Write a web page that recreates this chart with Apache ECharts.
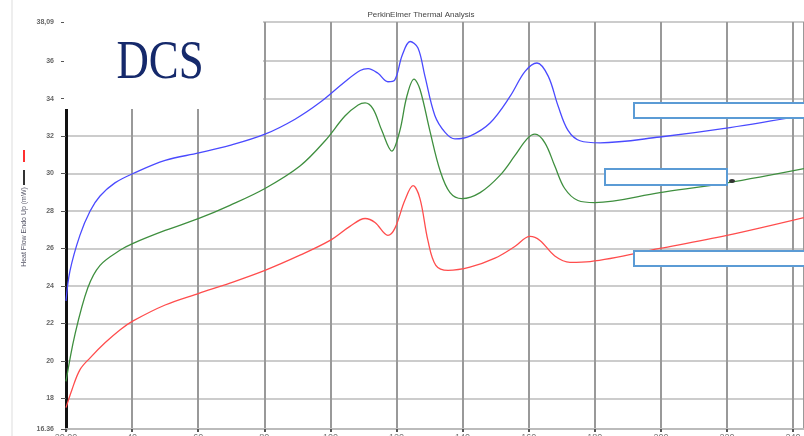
<!DOCTYPE html>
<html>
<head>
<meta charset="utf-8">
<script src="https://cdn.jsdelivr.net/npm/echarts@6/dist/echarts.min.js"></script>
<style>
  html, body { margin: 0; padding: 0; background: #fff; }
  #chart { width: 804px; height: 436px; }
</style>
</head>
<body>
<div id="chart"></div>
<script>
// temperature (x) and heat flow (y)
var blueT = [20, 21.2, 24.2, 27.3, 30.3, 34.8, 40.3, 50, 60.2, 69.6, 80.2, 89.3, 96.9, 104.4, 109, 111.4, 114.4, 117.4, 119.5, 121.7, 124.1, 126.5, 128.6, 131.6, 134.7, 137.7, 142.2, 148.3, 154.3, 158.9, 162.5, 165.9, 168.9, 171.9, 175.5, 181.6, 199.7, 220.9, 243.3];
var blueV = [23.2, 24.8, 26.7, 28.0, 28.8, 29.5, 30.0, 30.7, 31.1, 31.5, 32.1, 32.9, 33.8, 34.9, 35.5, 35.6, 35.35, 34.9, 35.0, 36.3, 37.05, 36.7, 35.2, 33.1, 32.2, 31.85, 32.0, 32.7, 34.1, 35.45, 35.9, 35.2, 33.6, 32.3, 31.75, 31.64, 31.95, 32.45, 33.1];

var greenT = [20, 22.7, 26.6, 30.3, 36.3, 40.3, 50, 60.2, 69.6, 80.2, 90.8, 98.4, 104.4, 108.4, 110.5, 112.9, 115.6, 118.6, 121, 123.1, 125.3, 127.1, 130.1, 133.2, 136.2, 139.8, 145.3, 151.3, 155.8, 159.5, 161.9, 164.9, 167.9, 170.9, 174.9, 180, 199.7, 220, 243.3];
var greenV = [18.9, 21.4, 23.9, 25.1, 25.9, 26.27, 26.96, 27.6, 28.3, 29.2, 30.4, 31.75, 33.07, 33.66, 33.77, 33.45, 32.28, 31.2, 32.28, 34.1, 35.04, 34.5, 32.28, 30.15, 28.98, 28.66, 28.98, 29.9, 30.95, 31.85, 32.1, 31.64, 30.4, 29.2, 28.56, 28.45, 28.98, 29.5, 30.26];

var redT = [20, 21.8, 24.2, 27.3, 31.8, 36.3, 40.3, 50, 60.2, 69.6, 80.2, 90.8, 99.9, 105.9, 110.5, 113.5, 117.4, 119.5, 122.5, 125, 127.1, 129.5, 131.9, 135.6, 142.2, 149.8, 155.8, 160.4, 163.4, 167.9, 172.5, 178.6, 199.7, 220, 243.3];
var redV = [17.5, 18.46, 19.52, 20.16, 20.96, 21.65, 22.13, 22.98, 23.6, 24.15, 24.83, 25.64, 26.43, 27.18, 27.6, 27.39, 26.7, 27.07, 28.56, 29.35, 28.66, 26.43, 25.1, 24.83, 25.0, 25.48, 26.1, 26.64, 26.43, 25.6, 25.26, 25.3, 26.0, 26.7, 27.65];

var yTicks = [16.36, 18, 20, 22, 24, 26, 28, 30, 32, 34, 36, 38.09];

function pairs(xs, ys) {
    return xs.map(function (x, i) { return [x, ys[i]]; });
}

function curve(data, color) {
    return {
        type: 'line',
        data: data,
        smooth: 0.35,
        showSymbol: false,
        lineStyle: { color: color, width: 1.3 }
    };
}

var chart = echarts.init(document.getElementById('chart'));
chart.setOption({
    animation: false,
    backgroundColor: '#fff',
    // bottom labels are cut off by the page edge in the scan, so no auto fitting
    grid: { left: 66, right: 0, top: 22, bottom: 7, outerBoundsMode: 'none', containLabel: false },
    xAxis: {
        type: 'value',
        min: 20,
        max: 243.3,
        interval: 20,
        axisLine: { show: true, lineStyle: { color: '#bbb', width: 2 } },
        axisTick: { show: true, length: 3, lineStyle: { color: '#555', width: 2 } },
        axisLabel: {
            margin: 4, fontSize: 9, color: '#777', showMaxLabel: false,
            formatter: function (v) { return v === 20 ? '20.00' : String(v); }
        },
        splitLine: { show: true, lineStyle: { color: '#999', width: 2 } }
    },
    yAxis: {
        type: 'value',
        min: 16.36,
        max: 38.09,
        axisLine: { show: true, lineStyle: { color: '#111', width: 3 } },
        axisTick: { show: true, customValues: yTicks, length: 5, lineStyle: { color: '#555' } },
        axisLabel: {
            customValues: yTicks, margin: 12, fontSize: 7, fontWeight: 'bold', color: '#666',
            formatter: function (v) {
                if (v === 38.09) return '38,09';
                if (v === 16.36) return '16.36';
                return String(v);
            }
        },
        splitLine: { show: true, lineStyle: { color: '#ccc', width: 2 } }
    },
    series: [
        curve(pairs(blueT, blueV), '#4a4aff'),
        curve(pairs(greenT, greenV), '#3f8f3f'),
        curve(pairs(redT, redV), '#ff4d4d')
    ],
    graphic: [
        // page border on the left
        { type: 'line', shape: { x1: 12, y1: 0, x2: 12, y2: 436 }, style: { stroke: '#ddd', lineWidth: 1 }, z: 50 },
        // blank area behind the big title
        { type: 'rect', shape: { x: 64, y: 18, width: 199, height: 91 }, style: { fill: '#fff' }, z: 100 },
        {
            type: 'text', x: 160, y: 64, scaleX: 0.83, z: 101,
            style: {
                text: 'DCS', font: '54px "Liberation Serif", serif', fill: '#15296b',
                align: 'center', verticalAlign: 'middle'
            }
        },
        {
            type: 'text', x: 421, y: 15, z: 101,
            style: {
                text: 'PerkinElmer Thermal Analysis', font: '8px "Liberation Sans", sans-serif', fill: '#444',
                align: 'center', verticalAlign: 'middle'
            }
        },
        // y axis legend and title
        { type: 'line', shape: { x1: 24, y1: 150, x2: 24, y2: 162 }, style: { stroke: '#ff3030', lineWidth: 2 }, z: 101 },
        { type: 'line', shape: { x1: 24, y1: 170, x2: 24, y2: 185 }, style: { stroke: '#333', lineWidth: 2 }, z: 101 },
        {
            type: 'text', x: 24, y: 227, rotation: Math.PI / 2, z: 101,
            style: {
                text: 'Heat Flow Endo Up (mW)', font: '7px "Liberation Sans", sans-serif', fill: '#556',
                align: 'center', verticalAlign: 'middle'
            }
        },
        // empty label boxes
        { type: 'rect', shape: { x: 634, y: 103, width: 180, height: 15 }, style: { fill: '#fff', stroke: '#5b9bd5', lineWidth: 2 }, z: 101 },
        { type: 'rect', shape: { x: 605, y: 169, width: 122, height: 16 }, style: { fill: '#fff', stroke: '#5b9bd5', lineWidth: 2 }, z: 101 },
        { type: 'rect', shape: { x: 634, y: 251, width: 180, height: 15 }, style: { fill: '#fff', stroke: '#5b9bd5', lineWidth: 2 }, z: 101 },
        { type: 'ellipse', shape: { cx: 732, cy: 181, rx: 3, ry: 2 }, style: { fill: '#333' }, z: 101 }
    ]
});
</script>
</body>
</html>
